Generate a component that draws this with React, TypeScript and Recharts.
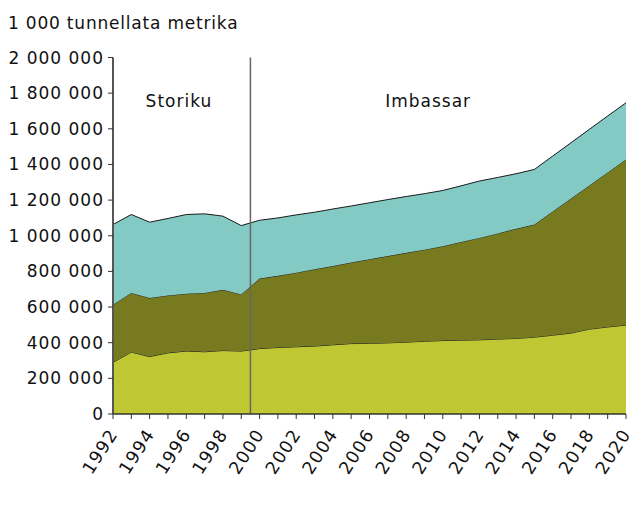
import React from "react";
import {
  AreaChart,
  Area,
  XAxis,
  YAxis,
  ReferenceLine,
  ReferenceDot,
} from "recharts";

const years = [
  1992, 1993, 1994, 1995, 1996, 1997, 1998, 1999, 2000, 2001, 2002, 2003, 2004, 2005, 2006,
  2007, 2008, 2009, 2010, 2011, 2012, 2013, 2014, 2015, 2016, 2017, 2018, 2019, 2020,
];

// 1 000 tunnellata metrika, stacked from the bottom up
const bottomSeries = [
  290, 347, 322, 343, 353, 349, 356, 353, 367, 373, 377, 381, 388, 395, 396,
  399, 403, 408, 412, 414, 416, 420, 424, 431, 442, 454, 476, 488, 499,
];
const middleSeries = [
  323, 332, 329, 322, 322, 330, 341, 318, 393, 402, 416, 431, 442, 455, 472,
  487, 501, 514, 529, 551, 572, 593, 615, 632, 694, 755, 806, 867, 929,
];
const topSeries = [
  450, 440, 425, 432, 444, 444, 413, 386, 327, 325, 324, 320, 320, 317, 317,
  317, 316, 314, 313, 315, 319, 314, 309, 309, 311, 313, 315, 317, 318,
];

const yTicks = [0, 200000, 400000, 600000, 800000, 1000000, 1200000, 1400000, 1600000, 1800000, 2000000];

const unitLabel = "1 000 tunnellata metrika";
const periodSplit = 1999.5;
const periodLabels = [
  { name: "Storiku", year: 1995.6, level: 1756000 },
  { name: "Imbassar", year: 2009.2, level: 1756000 },
];

const data = years.map((year, i) => ({
  year,
  bottom: bottomSeries[i] * 1000,
  middle: middleSeries[i] * 1000,
  top: topSeries[i] * 1000,
}));

const FONT = "'DejaVu Sans', Verdana, sans-serif";
const textStyle = { fontFamily: FONT, fontSize: 17, letterSpacing: 1, fill: "#111" };

const fmt = (v: number) => String(v).replace(/\B(?=(\d{3})+(?!\d))/g, " ");

function YearTick(props: any) {
  const { x, y, payload } = props;
  if (payload.value % 2 !== 0) return <g />;
  const px = x + 5.5;
  const py = y + 13;
  return (
    <text
      x={px}
      y={py}
      textAnchor="end"
      transform={`rotate(-57, ${px}, ${py})`}
      style={{ ...textStyle, fontSize: 17.5, letterSpacing: 1.2 }}
    >
      {payload.value}
    </text>
  );
}

export default function App() {
  return (
    <div style={{ position: "relative", width: 635, height: 513 }}>
      <div
        style={{
          position: "absolute",
          left: 0,
          top: 7,
          fontFamily: FONT,
          fontSize: 17,
          lineHeight: "17px",
          letterSpacing: 0.8,
          color: "#111",
          whiteSpace: "nowrap",
        }}
      >
        {unitLabel}
      </div>
      <AreaChart
        width={635}
        height={513}
        data={data}
        margin={{ top: 49.5, right: 17, left: 0, bottom: 7 }}
      >
        <XAxis
          dataKey="year"
          type="number"
          domain={[1992, 2020]}
          ticks={years}
          interval={0}
          height={100}
          tick={<YearTick />}
          tickSize={5}
          axisLine={{ stroke: "#333", strokeWidth: 1.5 }}
          tickLine={{ stroke: "#333" }}
        />
        <YAxis
          width={105}
          domain={[0, 2000000]}
          ticks={yTicks}
          interval={0}
          tickFormatter={fmt}
          tickSize={5}
          tickMargin={4}
          tick={textStyle}
          axisLine={{ stroke: "#555", strokeWidth: 2 }}
          tickLine={{ stroke: "#333" }}
        />
        <Area
          type="linear"
          dataKey="bottom"
          stackId="a"
          fill="#bfc833"
          fillOpacity={1}
          stroke="#1a1a1a"
          strokeWidth={1}
          isAnimationActive={false}
        />
        <Area
          type="linear"
          dataKey="middle"
          stackId="a"
          fill="#787a20"
          fillOpacity={1}
          stroke="#1a1a1a"
          strokeWidth={1}
          isAnimationActive={false}
        />
        <Area
          type="linear"
          dataKey="top"
          stackId="a"
          fill="#84cac4"
          fillOpacity={1}
          stroke="#1a1a1a"
          strokeWidth={1}
          isAnimationActive={false}
        />
        <ReferenceLine x={periodSplit} stroke="#666" strokeWidth={1.5} />
        {periodLabels.map((p) => (
          <ReferenceDot
            key={p.name}
            x={p.year}
            y={p.level}
            r={0}
            fill="none"
            stroke="none"
            label={{ value: p.name, position: "center", ...textStyle }}
          />
        ))}
      </AreaChart>
    </div>
  );
}
